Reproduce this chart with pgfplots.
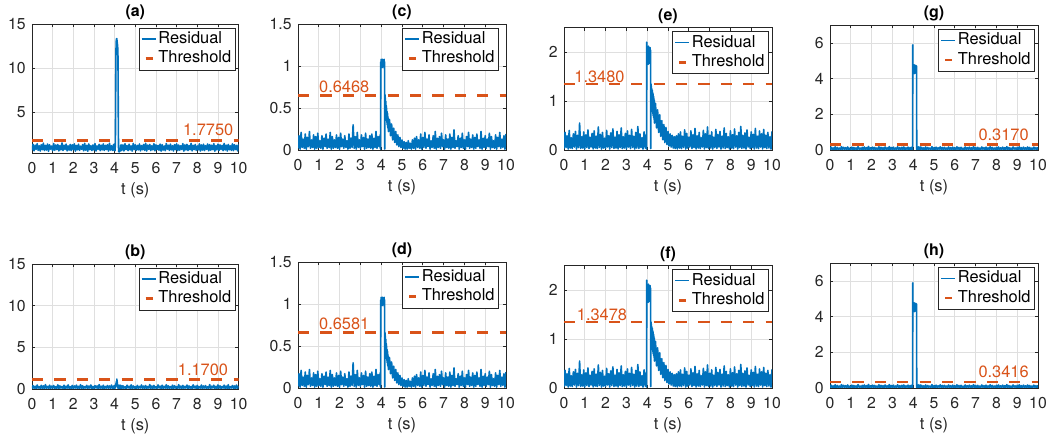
\documentclass[border=0pt]{standalone}
\usepackage{fontspec}
\setmainfont{TeX Gyre Heros}
\usepackage{pgfplots}
\usepackage{pgfplotstable}
\pgfplotsset{compat=1.18}
\definecolor{mblue}{RGB}{0,114,189}
\definecolor{morange}{RGB}{217,83,25}
\definecolor{axgray}{RGB}{38,38,38}
\definecolor{gridgray}{RGB}{223,223,223}

\pgfplotstableread{
t a b c e g
0.00 0.72 0.06 0.02 0.03 0.02
0.05 1.38 0.41 0.17 0.36 0.16
0.10 0.65 0.09 0.01 0.05 0.03
0.15 1.29 0.33 0.21 0.29 0.12
0.20 0.81 0.04 0.03 0.02 0.01
0.25 1.45 0.48 0.13 0.40 0.18
0.30 0.70 0.11 0.02 0.04 0.02
0.35 1.22 0.29 0.19 0.25 0.14
0.40 0.62 0.05 0.01 0.03 0.03
0.45 1.34 0.44 0.15 0.33 0.11
0.50 0.77 0.08 0.04 0.06 0.02
0.55 1.51 0.37 0.22 0.38 0.19
0.60 0.68 0.03 0.02 0.02 0.01
0.65 1.26 0.52 0.12 0.30 0.15
0.70 0.74 0.10 0.03 0.05 0.04
0.75 1.41 0.31 0.18 0.55 0.13
0.80 0.59 0.07 0.01 0.03 0.02
0.85 1.33 0.46 0.16 0.27 0.17
0.90 0.83 0.05 0.02 0.04 0.03
0.95 1.19 0.35 0.20 0.37 0.10
1.00 0.66 0.12 0.03 0.02 0.02
1.05 1.47 0.42 0.11 0.31 0.16
1.10 0.71 0.06 0.02 0.05 0.01
1.15 1.30 0.27 0.17 0.41 0.14
1.20 0.79 0.09 0.01 0.03 0.03
1.25 1.36 0.50 0.14 0.26 0.12
1.30 0.63 0.04 0.04 0.06 0.02
1.35 1.24 0.38 0.19 0.34 0.19
1.40 0.75 0.11 0.02 0.02 0.04
1.45 1.53 0.30 0.13 0.39 0.11
1.50 0.69 0.07 0.03 0.04 0.02
1.55 1.28 0.45 0.21 0.28 0.15
1.60 0.80 0.03 0.01 0.03 0.01
1.65 1.40 0.34 0.16 0.47 0.17
1.70 0.64 0.10 0.02 0.05 0.03
1.75 1.21 0.49 0.12 0.32 0.13
1.80 0.73 0.05 0.03 0.02 0.02
1.85 1.37 0.28 0.18 0.36 0.20
1.90 0.67 0.08 0.02 0.04 0.01
1.95 1.32 0.43 0.15 0.24 0.12
2.00 0.78 0.06 0.01 0.03 0.03
2.05 1.44 0.36 0.20 0.40 0.16
2.10 0.61 0.12 0.04 0.06 0.02
2.15 1.25 0.47 0.13 0.29 0.14
2.20 0.76 0.04 0.02 0.02 0.04
2.25 1.39 0.32 0.17 0.35 0.11
2.30 0.70 0.09 0.03 0.05 0.02
2.35 1.18 0.51 0.11 0.43 0.18
2.40 0.82 0.07 0.01 0.03 0.01
2.45 1.35 0.39 0.19 0.26 0.15
2.50 0.65 0.05 0.02 0.04 0.03
2.55 1.49 0.29 0.14 0.38 0.13
2.60 0.72 0.11 0.03 0.02 0.02
2.65 1.27 0.44 0.30 0.31 0.17
2.70 0.60 0.06 0.02 0.05 0.04
2.75 1.42 0.35 0.16 0.45 0.12
2.80 0.77 0.10 0.01 0.03 0.02
2.85 1.23 0.48 0.21 0.27 0.19
2.90 0.68 0.03 0.03 0.04 0.01
2.95 1.31 0.31 0.12 0.34 0.14
3.00 0.74 0.08 0.02 0.02 0.03
3.05 1.46 0.40 0.18 0.39 0.16
3.10 0.63 0.12 0.04 0.06 0.02
3.15 1.20 0.37 0.15 0.30 0.11
3.20 0.81 0.05 0.01 0.03 0.04
3.25 1.38 0.53 0.20 0.42 0.18
3.30 0.66 0.09 0.02 0.05 0.02
3.35 1.29 0.33 0.13 0.28 0.13
3.40 0.75 0.07 0.03 0.02 0.01
3.45 1.43 0.45 0.17 0.36 0.15
3.50 0.69 0.04 0.02 0.04 0.03
3.55 1.26 0.30 0.19 0.48 0.17
3.60 0.79 0.11 0.01 0.03 0.02
3.65 1.34 0.42 0.14 0.33 0.12
3.70 0.62 0.06 0.03 0.05 0.04
3.75 1.50 0.36 0.22 0.25 0.16
3.80 0.73 0.10 0.02 0.02 0.02
3.85 1.22 0.47 0.16 0.37 0.14
3.90 0.70 0.05 0.04 0.04 0.01
3.95 1.37 0.32 0.18 0.31 0.18
3.96 0.74 0.08 0.03 0.04 0.02
3.97 1.30 0.40 0.01 0.02 0.01
3.98 0.69 0.06 1.05 2.20 5.90
3.99 1.41 0.35 1.00 1.85 4.35
4.00 0.76 0.11 1.08 2.10 4.75
4.01 1.27 0.44 0.99 1.78 4.30
4.02 0.66 0.09 1.07 2.05 4.72
4.03 1.20 0.38 1.01 1.82 4.38
4.04 2.50 0.15 1.06 2.08 4.78
4.05 6.80 0.52 0.98 1.75 4.28
4.06 10.90 0.30 1.08 2.12 4.70
4.07 12.60 0.75 1.00 1.80 4.40
4.08 13.10 0.45 1.05 2.03 4.76
4.09 13.30 0.95 1.01 1.77 4.33
4.10 13.35 0.60 1.07 2.07 4.74
4.11 13.20 1.20 0.99 1.84 4.36
4.12 13.00 0.50 1.06 2.02 4.69
4.13 12.80 0.85 1.02 1.79 4.31
4.14 12.60 0.30 1.08 2.09 4.73
4.15 12.30 0.55 1.00 1.76 4.39
4.16 11.50 0.10 1.05 2.04 4.71
4.17 8.00 0.42 0.01 0.03 0.02
4.18 3.00 0.07 0.66 1.35 0.03
4.19 0.80 0.36 0.52 0.95 0.02
4.20 0.55 0.05 0.62 1.30 0.12
4.21 0.60 0.31 0.45 0.88 0.03
4.22 0.52 0.09 0.58 1.25 0.16
4.23 0.66 0.43 0.41 0.84 0.02
4.24 0.54 0.06 0.53 1.22 0.13
4.25 0.70 0.34 0.37 0.78 0.01
4.26 0.60 0.10 0.50 1.18 0.18
4.27 0.95 0.47 0.33 0.74 0.03
4.28 0.65 0.04 0.46 1.15 0.11
4.29 1.25 0.29 0.30 0.70 0.02
4.30 0.72 0.08 0.44 1.10 0.15
4.31 1.33 0.41 0.27 0.66 0.04
4.32 0.68 0.12 0.40 1.06 0.12
4.33 1.28 0.36 0.25 0.62 0.01
4.34 0.75 0.05 0.38 1.02 0.17
4.35 0.70 0.06 0.22 0.55 0.02
4.40 1.31 0.39 0.36 0.95 0.15
4.45 0.63 0.09 0.17 0.45 0.03
4.50 1.44 0.28 0.31 0.82 0.12
4.55 0.78 0.04 0.12 0.36 0.01
4.60 1.25 0.46 0.26 0.72 0.17
4.65 0.67 0.11 0.09 0.28 0.02
4.70 1.39 0.33 0.22 0.60 0.14
4.75 0.74 0.07 0.06 0.21 0.04
4.80 1.21 0.50 0.18 0.52 0.11
4.85 0.61 0.05 0.04 0.15 0.02
4.90 1.48 0.37 0.15 0.46 0.19
4.95 0.80 0.10 0.03 0.11 0.01
5.00 1.33 0.29 0.12 0.38 0.13
5.05 0.69 0.03 0.02 0.08 0.03
5.10 1.27 0.44 0.10 0.33 0.16
5.15 0.75 0.08 0.01 0.06 0.02
5.20 1.42 0.31 0.09 0.30 0.12
5.25 0.64 0.12 0.01 0.04 0.04
5.30 1.24 0.48 0.11 0.27 0.18
5.35 0.77 0.06 0.02 0.03 0.01
5.40 1.36 0.35 0.08 0.29 0.14
5.45 0.70 0.09 0.01 0.02 0.03
5.50 1.50 0.42 0.12 0.33 0.15
5.55 0.62 0.04 0.02 0.04 0.02
5.60 1.29 0.30 0.14 0.37 0.11
5.65 0.81 0.11 0.01 0.03 0.04
5.70 1.37 0.53 0.16 0.28 0.17
5.75 0.68 0.07 0.03 0.05 0.02
5.80 1.22 0.36 0.12 0.41 0.13
5.85 0.76 0.05 0.02 0.02 0.01
5.90 1.45 0.43 0.19 0.34 0.16
5.95 0.65 0.10 0.01 0.04 0.03
6.00 1.32 0.27 0.15 0.26 0.12
6.05 0.79 0.06 0.03 0.06 0.02
6.10 1.26 0.49 0.21 0.39 0.18
6.15 0.71 0.12 0.02 0.03 0.04
6.20 1.40 0.34 0.13 0.31 0.14
6.25 0.60 0.04 0.04 0.05 0.01
6.30 1.35 0.45 0.18 0.44 0.15
6.35 0.73 0.08 0.01 0.02 0.02
6.40 1.19 0.32 0.11 0.29 0.10
6.45 0.66 0.11 0.03 0.04 0.03
6.50 1.47 0.51 0.17 0.36 0.17
6.55 0.82 0.05 0.02 0.03 0.02
6.60 1.28 0.38 0.22 0.25 0.13
6.65 0.69 0.09 0.01 0.06 0.04
6.70 1.41 0.29 0.14 0.40 0.16
6.75 0.75 0.07 0.03 0.02 0.01
6.80 1.23 0.46 0.16 0.33 0.12
6.85 0.63 0.03 0.02 0.05 0.03
6.90 1.34 0.40 0.20 0.47 0.19
6.95 0.78 0.12 0.04 0.03 0.02
7.00 1.43 0.28 0.12 0.30 0.14
7.05 0.67 0.06 0.01 0.04 0.01
7.10 1.30 0.52 0.18 0.37 0.15
7.15 0.72 0.10 0.03 0.02 0.03
7.20 1.21 0.35 0.13 0.26 0.11
7.25 0.80 0.05 0.02 0.05 0.02
7.30 1.46 0.43 0.19 0.42 0.17
7.35 0.61 0.08 0.01 0.03 0.04
7.40 1.33 0.31 0.15 0.32 0.13
7.45 0.74 0.11 0.03 0.06 0.02
7.50 1.38 0.47 0.24 0.38 0.16
7.55 0.68 0.04 0.02 0.02 0.01
7.60 1.25 0.37 0.11 0.28 0.12
7.65 0.77 0.09 0.04 0.04 0.03
7.70 1.49 0.30 0.17 0.45 0.18
7.75 0.64 0.06 0.01 0.03 0.02
7.80 1.27 0.50 0.14 0.34 0.14
7.85 0.79 0.12 0.03 0.05 0.04
7.90 1.36 0.33 0.20 0.27 0.11
7.95 0.70 0.05 0.02 0.02 0.01
8.00 1.20 0.44 0.12 0.39 0.15
8.05 0.76 0.07 0.01 0.04 0.03
8.10 1.44 0.29 0.16 0.31 0.17
8.15 0.62 0.10 0.04 0.03 0.02
8.20 1.31 0.48 0.21 0.43 0.12
8.25 0.73 0.04 0.02 0.06 0.04
8.30 1.39 0.36 0.13 0.29 0.16
8.35 0.67 0.11 0.03 0.02 0.01
8.40 1.24 0.41 0.18 0.36 0.13
8.45 0.81 0.06 0.01 0.05 0.02
8.50 1.42 0.27 0.15 0.48 0.19
8.55 0.65 0.09 0.02 0.03 0.03
8.60 1.35 0.53 0.19 0.30 0.14
8.65 0.72 0.05 0.04 0.04 0.02
8.70 1.28 0.34 0.12 0.35 0.11
8.75 0.78 0.12 0.02 0.02 0.01
8.80 1.46 0.45 0.22 0.41 0.17
8.85 0.60 0.07 0.01 0.06 0.04
8.90 1.23 0.32 0.14 0.26 0.12
8.95 0.75 0.04 0.03 0.03 0.02
9.00 1.40 0.49 0.17 0.37 0.15
9.05 0.69 0.10 0.02 0.05 0.03
9.10 1.32 0.38 0.13 0.32 0.18
9.15 0.80 0.06 0.04 0.02 0.01
9.20 1.26 0.30 0.20 0.44 0.13
9.25 0.66 0.11 0.01 0.04 0.02
9.30 1.48 0.46 0.16 0.28 0.16
9.35 0.74 0.05 0.03 0.03 0.04
9.40 1.29 0.35 0.11 0.39 0.12
9.45 0.63 0.08 0.02 0.06 0.02
9.50 1.37 0.51 0.18 0.33 0.17
9.55 0.77 0.03 0.01 0.02 0.01
9.60 1.22 0.28 0.15 0.42 0.14
9.65 0.70 0.12 0.04 0.05 0.03
9.70 1.43 0.42 0.21 0.30 0.11
9.75 0.67 0.07 0.02 0.03 0.02
9.80 1.34 0.37 0.13 0.36 0.16
9.85 0.79 0.05 0.03 0.04 0.04
9.90 1.25 0.47 0.17 0.27 0.13
9.95 0.64 0.09 0.01 0.02 0.02
10.00 1.39 0.33 0.19 0.38 0.15
}\resid

\tikzset{thtxt/.style={text=morange, font=\fontsize{8.2}{9}\selectfont, inner sep=0pt}}

\pgfplotsset{
 every axis title shift=0pt,
 mat/.style={
  scale only axis, anchor=south west,
  xmin=0, xmax=10, xtick={0,1,...,10},
  grid=major, grid style={gridgray, line width=0.4pt},
  axis line style={axgray, line width=0.4pt},
  tick style={axgray, line width=0.4pt},
  tick align=inside, major tick length=1.6pt,
  /pgf/number format/assume math mode=true,
  ticklabel style={font=\fontsize{7.9}{9}\selectfont, text=axgray},
  xticklabel style={anchor=north, inner sep=0pt, yshift=-4.6pt},
  yticklabel style={anchor=east, inner sep=0pt, xshift=-3pt},
  xlabel={t (s)},
  xlabel style={at={(axis description cs:0.5,0)}, anchor=base, yshift=-20.7pt, font=\fontsize{8.2}{9}\selectfont, text=axgray, inner sep=0pt},
  title style={at={(axis description cs:0.5,1)}, anchor=base, yshift=3.7pt, font=\bfseries\fontsize{8}{9}\selectfont, inner sep=0pt},
  legend cell align=left,
  legend style={at={(axis description cs:1,1)}, anchor=north east, xshift=-1.5pt, yshift=-2pt, draw=axgray, line width=0.4pt, font=\fontsize{8.2}{9}\selectfont, inner xsep=1pt, inner ysep=0.8pt, nodes={inner sep=1pt, text height=5.9pt, text depth=1.7pt}, row sep=0pt},
 },
 res/.style={mblue, line width=0.8pt, line join=round, legend image code/.code={\draw[mblue, line width=0.75pt] (0pt,0.25pt) -- (7pt,0.25pt);}},
 thr/.style={morange, line width=1.35pt, dash pattern=on 5.6pt off 5.6pt, legend image code/.code={\draw[morange, line width=1.35pt] (2pt,0pt) -- (5.5pt,0pt);}},
}

\begin{document}
\begin{tikzpicture}
\useasboundingbox (0,0) rectangle (527pt,222pt);
% (a)
\begin{axis}[mat, at={(16pt,145.5pt)}, width=103.3pt, height=64.5pt, ymin=0.4, ymax=15, ytick={5,10,15}, title={(a)}]
\addplot[res] table[x=t,y=a]{\resid};
\addplot[thr] coordinates {(0,1.775) (10,1.775)};
\node[thtxt, anchor=base east, yshift=2.5pt] at (axis cs:9.76,1.775) {1.7750};
\legend{Residual,Threshold}
\end{axis}
% (c)
\begin{axis}[mat, at={(149pt,147pt)}, width=104pt, height=63pt, ymin=0, ymax=1.5, ytick={0,0.5,1,1.5}, title={(c)}, legend style={xshift=-2pt}]
\addplot[res] table[x=t,y=c]{\resid};
\addplot[thr] coordinates {(0,0.6468) (10,0.6468)};
\node[thtxt, anchor=base west, yshift=1.8pt] at (axis cs:1.0,0.6468) {0.6468};
\legend{Residual,Threshold}
\end{axis}
% (e)
\begin{axis}[mat, at={(282pt,147pt)}, width=104pt, height=61.25pt, ymin=0, ymax=2.5, ytick={0,1,2}, title={(e)}]
\addplot[res] table[x=t,y=e]{\resid};
\addplot[thr] coordinates {(0,1.348) (10,1.348)};
\node[thtxt, anchor=base west, yshift=0.8pt] at (axis cs:0.48,1.348) {1.3480};
\legend{Residual,Threshold}
\end{axis}
% (g)
\begin{axis}[mat, at={(415pt,147pt)}, width=104pt, height=62.4pt, ymin=0, ymax=7, ytick={0,2,4,6}, title={(g)}]
\addplot[res] table[x=t,y=g]{\resid};
\addplot[thr] coordinates {(0,0.317) (10,0.317)};
\node[thtxt, anchor=base east, yshift=2pt] at (axis cs:9.57,0.317) {0.3170};
\legend{Residual,Threshold}
\end{axis}
% (b)
\begin{axis}[mat, at={(16pt,27.5pt)}, width=103.3pt, height=62.5pt, ymin=0, ymax=15, ytick={0,5,10,15}, title={(b)}]
\addplot[res] table[x=t,y=b]{\resid};
\addplot[thr] coordinates {(0,1.17) (10,1.17)};
\node[thtxt, anchor=base east, yshift=2pt] at (axis cs:9.51,1.17) {1.1700};
\legend{Residual,Threshold}
\end{axis}
% (d)
\begin{axis}[mat, at={(149pt,28pt)}, width=104pt, height=63pt, ymin=0, ymax=1.5, ytick={0,0.5,1,1.5}, title={(d)}, legend style={xshift=-2pt}]
\addplot[res] table[x=t,y=c]{\resid};
\addplot[thr] coordinates {(0,0.6581) (10,0.6581)};
\node[thtxt, anchor=base west, yshift=1.8pt] at (axis cs:1.0,0.6581) {0.6581};
\legend{Residual,Threshold}
\end{axis}
% (f)
\begin{axis}[mat, at={(282pt,28pt)}, width=104pt, height=61.25pt, ymin=0, ymax=2.5, ytick={0,1,2}, title={(f)}]
\addplot[res] table[x=t,y=e]{\resid};
\addplot[thr] coordinates {(0,1.3478) (10,1.3478)};
\node[thtxt, anchor=base west, yshift=0.8pt] at (axis cs:0.6,1.3478) {1.3478};
\legend{Residual,Threshold}
\end{axis}
% (h)
\begin{axis}[mat, at={(415pt,28pt)}, width=104pt, height=62.4pt, ymin=0, ymax=7, ytick={0,2,4,6}, title={(h)}]
\addplot[res] table[x=t,y=g]{\resid};
\addplot[thr] coordinates {(0,0.3416) (10,0.3416)};
\node[thtxt, anchor=base east, yshift=2pt] at (axis cs:9.57,0.3416) {0.3416};
\legend{Residual,Threshold}
\end{axis}
\end{tikzpicture}
\end{document}
